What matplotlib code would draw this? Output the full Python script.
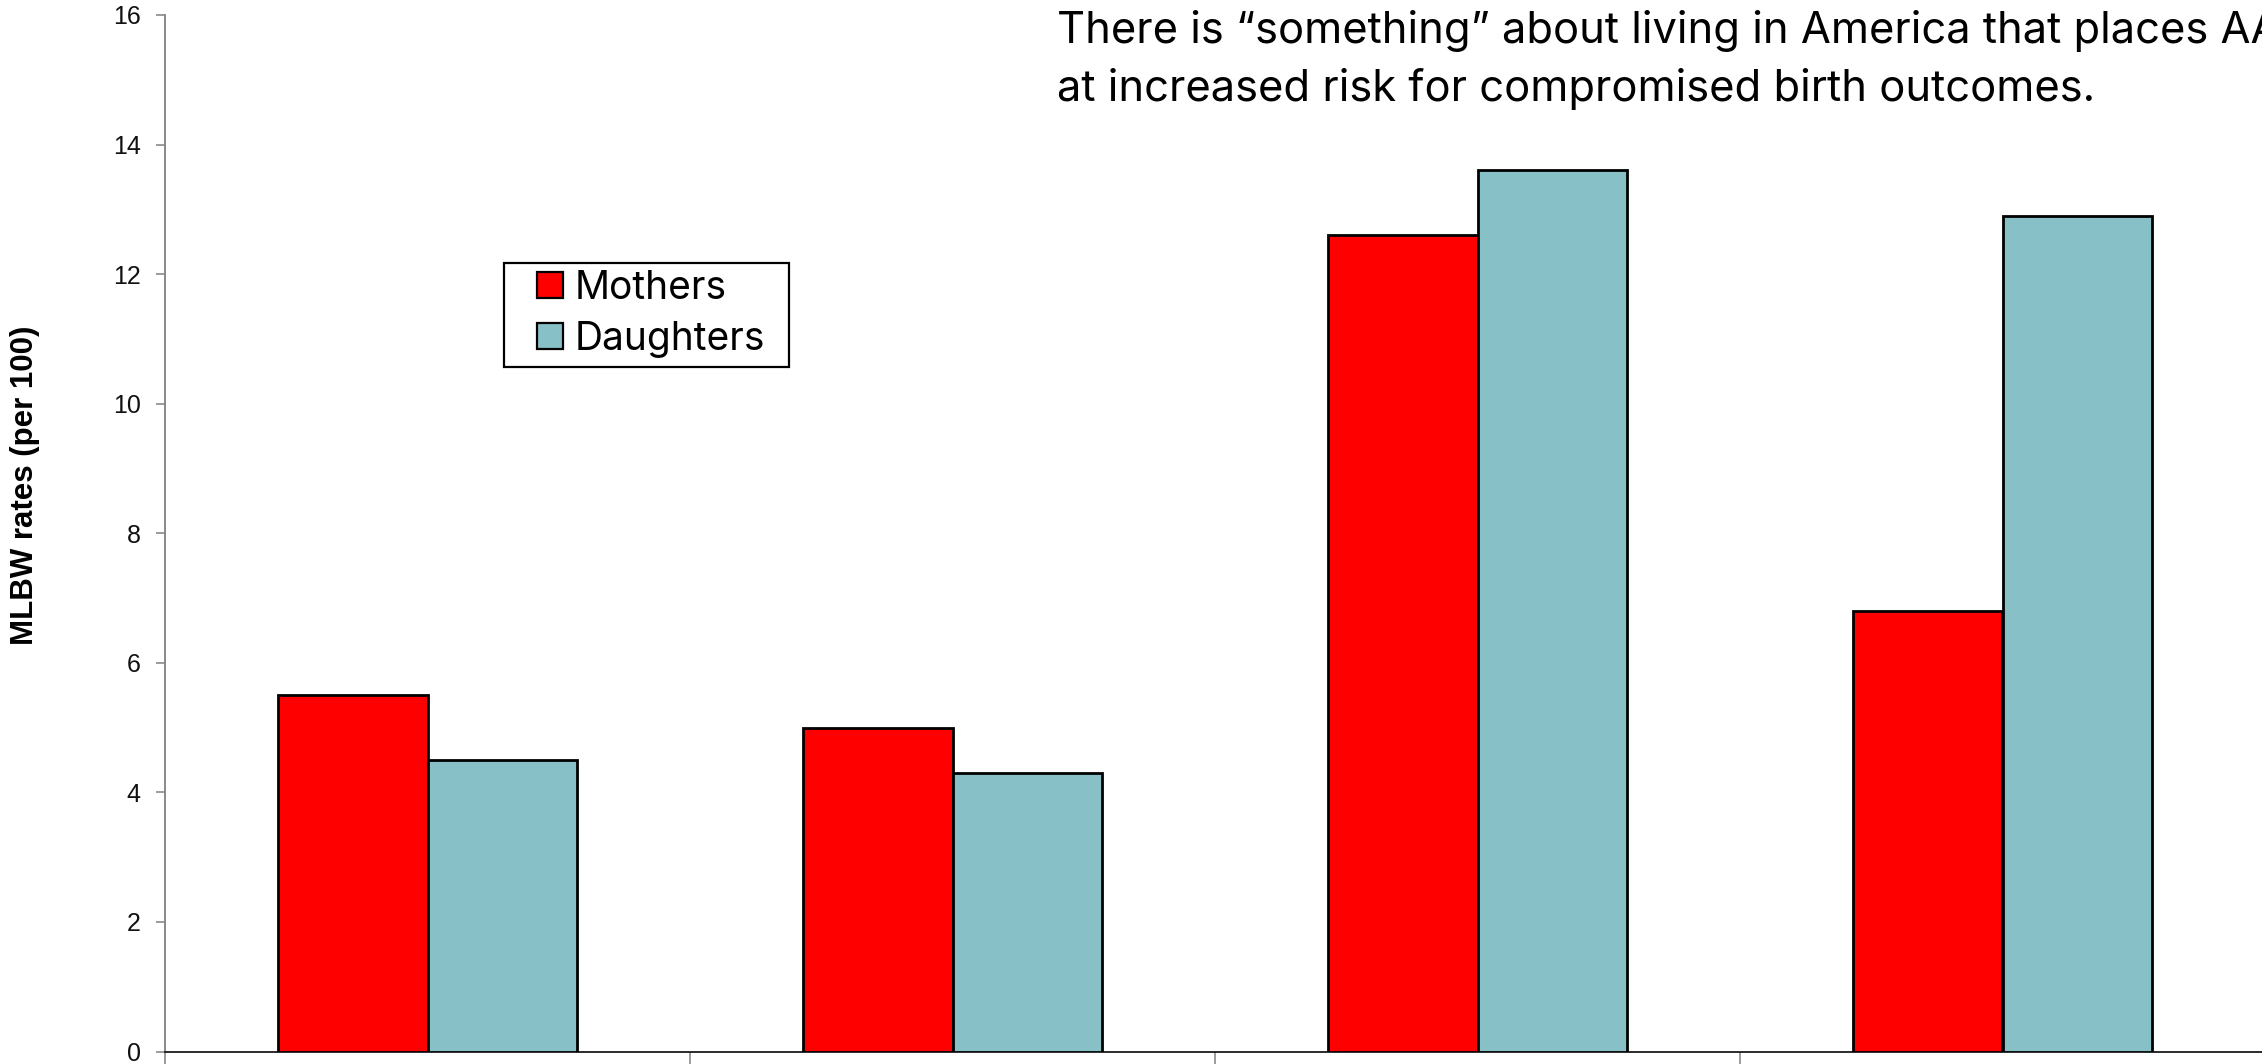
import matplotlib
matplotlib.use("Agg")
import matplotlib.pyplot as plt
from matplotlib.patches import Rectangle, Patch
import numpy as np

# Data: MLBW rates (per 100) for four groups
groups = ["Group 1", "Group 2", "Group 3", "Group 4"]
mothers = [5.5, 5.0, 12.6, 6.8]
daughters = [4.5, 4.3, 13.6, 12.9]
series_names = ["Mothers", "Daughters"]
y_ticks = [0, 2, 4, 6, 8, 10, 12, 14, 16]
y_label = "MLBW rates (per 100)"
note_lines = [
    "There is \u201csomething\u201d about living in America that places AA",
    "at increased risk for compromised birth outcomes.",
]

RED = "#FF0000"
TEAL = "#87C1C7"
GRAY = "#808080"

W, H = 2262, 1064
fig = plt.figure(figsize=(W / 100, H / 100), dpi=100)
fig.patch.set_facecolor("white")

# axes box in pixel terms (left spine at x=165, zero line at y=1051.5, top at y=15)
left_px, right_px, bottom_px, top_px = 165, 2265, 1051.5, 15
ax = fig.add_axes([left_px / W, (H - bottom_px) / H,
                   (right_px - left_px) / W, (bottom_px - top_px) / H])

x = np.arange(len(groups))
bw = 0.2857
ax.bar(x - bw / 2, mothers, width=bw, color=RED, edgecolor="black",
       linewidth=2.0, zorder=3, label=series_names[0])
ax.bar(x + bw / 2, daughters, width=bw, color=TEAL, edgecolor="black",
       linewidth=2.0, zorder=3, label=series_names[1])

ax.set_xlim(-0.5, len(groups) - 0.5)
ax.set_ylim(0, 16)
ax.set_yticks(y_ticks)
ax.set_yticklabels([str(t) for t in y_ticks])
ax.set_xticks(np.arange(len(groups) + 1) - 0.5)
ax.set_xticklabels([])

for s in ("top", "right"):
    ax.spines[s].set_visible(False)
ax.spines["left"].set_color(GRAY)
ax.spines["left"].set_linewidth(1.3)
ax.spines["bottom"].set_color("#1a1a1a")
ax.spines["bottom"].set_linewidth(1.3)

ax.tick_params(axis="y", direction="out", length=6.5, width=1.1, color=GRAY,
               pad=11, labelsize=18, labelcolor="#111111")
ax.tick_params(axis="x", direction="out", length=14, width=1.1, color=GRAY)
for lab in ax.get_yticklabels():
    lab.set_fontfamily(["Liberation Sans", "DejaVu Sans"])

ax.set_ylabel(y_label, fontsize=22.5, fontweight="bold",
              family=["Liberation Sans", "DejaVu Sans"])
ax.yaxis.set_label_coords((40 - left_px) / (right_px - left_px),
                          (bottom_px - 485) / (bottom_px - top_px))

# legend frame and entries
def ax_x(px):
    return (px - left_px) / (right_px - left_px)

def ax_y(py):
    return (bottom_px - py) / (bottom_px - top_px)

frame = Rectangle((ax_x(504), ax_y(367)), ax_x(789) - ax_x(504),
                  ax_y(263) - ax_y(367), transform=ax.transAxes,
                  facecolor="white", edgecolor="black", linewidth=1.6,
                  zorder=4)
ax.add_patch(frame)
handles = [Patch(facecolor=RED, edgecolor="black", linewidth=1.6),
           Patch(facecolor=TEAL, edgecolor="black", linewidth=1.6)]
leg = ax.legend(handles, series_names, loc="upper left",
                bbox_to_anchor=(ax_x(537), ax_y(270)), frameon=False,
                borderpad=0, borderaxespad=0, handlelength=0.67,
                handleheight=0.64, handletextpad=0.31, labelspacing=0.36,
                prop=dict(family=["Inter", "DejaVu Sans"], size=28))
leg.set_zorder(5)

# note text at the top
note_font = dict(family=["Inter", "DejaVu Sans"], size=31.3, color="black")
fig.text(1057 / W, (H - 43) / H, note_lines[0], ha="left", va="baseline",
         **note_font)
fig.text(1057 / W, (H - 101) / H, note_lines[1], ha="left", va="baseline",
         **note_font)

fig.savefig("out.png", dpi=100, facecolor="white")
